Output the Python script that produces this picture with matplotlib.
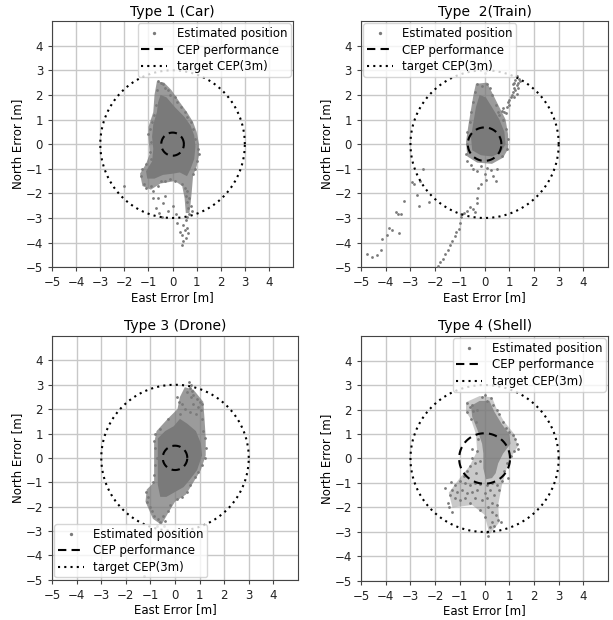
'''CEP scatter plots for four platform types.'''
import numpy as np
import matplotlib.pyplot as plt

# ---- data (metres) ----
titles = ['Type 1 (Car)', 'Type  2(Train)', 'Type 3 (Drone)', 'Type 4 (Shell)']
cep_radius = [0.47, 0.68, 0.50, 1.03]
target_cep = 3.0
legend_locs = ['upper right', 'upper left', 'lower left', 'upper right']

# solid grey centre of each cloud (outline)
car_core_x = [-0.5, -0.25, 0.1, 0.5, 0.75, 0.9, 0.95, 0.9, 0.75, 0.6, 0.3, 0.0,
              -0.4, -0.75, -1.05, -1.1, -0.85, -0.8, -0.85, -0.8, -0.65, -0.6]
car_core_y = [2.0, 1.9, 1.5, 1.1, 0.75, 0.35, -0.1, -0.6, -1.0, -1.3, -1.15, -1.2,
              -1.25, -1.4, -1.4, -1.1, -0.7, -0.2, 0.3, 0.8, 1.3, 1.7]
# lighter, speckled area around it (outline)
car_halo_x = [-0.65, -0.35, -0.05, 0.3, 0.6, 0.85, 1.0, 1.1, 1.1, 1.0, 0.85, 0.8, 0.75, 0.7, 0.55,
              0.5, 0.4, 0.1, -0.5, -0.9, -1.25, -1.35, -1.1, -0.95, -1.0, -1.0, -0.8, -0.75]
car_halo_y = [2.55, 2.5, 2.2, 1.7, 1.3, 0.9, 0.5, 0.0, -0.45, -0.9, -1.3, -1.9, -2.4, -2.8, -2.8,
              -2.2, -1.7, -1.5, -1.6, -1.85, -1.7, -1.2, -0.8, -0.4, 0.3, 0.7, 1.3, 2.0]
# scattered estimates
car_x = [-0.6, -0.5, -0.4, -0.3, -0.65, -0.2, -0.1, 0.1, 0.2, 0.35, 0.5, 0.6, 0.75, 0.85, 0.95, 1.05,
         1.1, 1.0, 0.95, 0.85,
         -0.7, -0.75, -0.85, -0.95, -1.0, -0.9, -0.95, -0.9, -1.1, -1.25, -1.3, -1.2, -1.1, -0.9, -0.8,
         -0.6, -0.5, -0.3, -0.1, 0.1,
         0.4, 0.5, 0.6, 0.55, 0.7, 0.6, 0.75, 0.65, 0.8, 0.7, 0.6, 0.55, 0.45, 0.6, 0.5, 0.65, 0.4, 0.55,
         0.45, 0.4, 0.3, 0.2,
         -0.6, -0.4, -0.7, -0.55, -0.45, -0.2, 0.0, 0.15, -0.3, -0.8, -2.0]
car_y = [2.55, 2.5, 2.45, 2.3, 2.2, 2.2, 2.0, 1.9, 1.7, 1.5, 1.3, 1.1, 0.9, 0.6, 0.2, -0.2,
         -0.4, -0.7, -1.0, -1.2,
         1.6, 1.2, 0.9, 0.6, 0.4, 0.1, -0.3, -0.6, -0.8, -1.0, -1.3, -1.6, -1.8, -1.7, -1.9,
         -1.7, -1.5, -1.5, -1.4, -1.5,
         -1.6, -1.8, -1.9, -2.1, -2.2, -2.35, -2.5, -2.6, -2.7, -2.85, -2.95, -3.1, -3.3, -3.4, -3.5, -3.6,
         -3.7, -3.8, -3.95, -4.1, -3.55, -3.2,
         -2.2, -2.4, -2.6, -2.8, -2.95, -2.7, -2.5, -2.85, -2.1, -2.2, -1.7]

train_core_x = [-0.2, 0.05, 0.3, 0.6, 0.8, 0.85, 0.65, 0.3, -0.15, -0.5, -0.55, -0.45, -0.35]
train_core_y = [2.0, 1.9, 1.5, 1.0, 0.5, 0.0, -0.35, -0.5, -0.45, -0.25, 0.3, 0.9, 1.5]
train_halo_x = [-0.35, 0.1, 0.35, 0.6, 0.85, 0.95, 0.95, 0.75, 0.3, -0.3, -0.7, -0.75, -0.65, -0.55,
                -0.45]
train_halo_y = [2.45, 2.5, 2.0, 1.5, 1.0, 0.4, -0.2, -0.55, -0.8, -0.75, -0.5, 0.1, 0.8, 1.4, 2.0]
train_x = [-0.3, -0.1, 0.1, 0.2, -0.4, 0.3, -0.45, 0.45, 0.55, -0.55, 0.75, -0.6, 0.85, -0.7, 0.95,
           -0.7, 0.9, -0.75, 0.7,
           0.6, 0.7, 0.75, 0.8, 0.9, 0.95, 1.0, 1.05, 1.1, 1.15, 1.2, 1.25, 1.3, 1.35, 1.25, 1.4, 1.3, 1.15,
           0.85, 1.0, 1.2, 1.35, 1.3, 1.45, 1.2,
           -0.7, -0.55, -0.45, -0.3, -0.15, 0.0, 0.1, 0.25, 0.35, 0.5, 0.45, -0.15, -0.25, 0.05,
           -0.3, -0.3, -0.45, -0.6, -0.7, -0.85, -0.95, -1.0, -1.05, -1.15, -1.2, -1.3, -1.4, -1.5, -1.6,
           -1.7, -1.8, -1.9,
           -4.75, -4.55, -4.35, -4.2, -4.15, -3.95, -3.85, -3.75, -3.6, -3.5, -3.4, -3.45, -3.25, -2.95,
           -2.85, -2.75, -2.6, -2.5, -2.65, -2.25, -0.95, -0.4, 0.0]
train_y = [2.45, 2.35, 2.45, 2.3, 2.1, 2.0, 1.7, 1.6, 1.3, 1.3, 1.0, 0.9, 0.6, 0.5, 0.2,
           0.0, -0.2, -0.4, -0.5,
           1.2, 1.35, 1.45, 1.3, 1.5, 1.7, 1.6, 1.9, 2.0, 2.1, 2.3, 2.2, 2.4, 2.5, 2.6, 2.65, 2.75, 2.45,
           1.25, 1.8, 2.5, 2.3, 2.05, 2.55, 1.9,
           -0.7, -0.85, -1.0, -1.1, -0.9, -1.2, -0.95, -1.05, -1.3, -1.0, -1.5, -1.6, -1.8, -1.45,
           -2.2, -2.4, -2.65, -2.55, -2.7, -2.8, -2.95, -3.2, -3.45, -3.55, -3.75, -3.95, -4.1, -4.3, -4.45,
           -4.65, -4.8, -4.95,
           -4.45, -4.6, -4.5, -4.3, -3.85, -3.7, -3.4, -3.5, -2.75, -2.85, -2.85, -3.6, -2.3, -1.55,
           -1.6, -2.05, -1.5, -1.0, -2.5, -2.35, -2.85, -2.75, 2.9]

drone_core_x = [0.2, 0.5, 0.85, 1.05, 1.1, 0.9, 0.6, 0.35, 0.0, -0.35, -0.6, -0.7, -0.7, -0.7,
                -0.7, -0.4, -0.05]
drone_core_y = [1.6, 1.4, 1.1, 0.6, 0.1, -0.5, -0.9, -1.2, -1.4, -1.6, -1.6, -1.1, -0.4, 0.3,
                0.8, 1.1, 1.3]
drone_halo_x = [0.4, 0.75, 1.15, 1.2, 1.25, 1.25, 1.05, 0.75, 0.45, 0.0, -0.3, -0.55, -0.9, -1.2,
                -1.15, -0.85, -0.85, -0.85, -0.75, -0.3, 0.1, 0.2]
drone_halo_y = [2.9, 2.8, 2.3, 1.6, 0.8, 0.1, -0.5, -1.0, -1.5, -1.8, -2.3, -2.75, -2.5, -1.8,
                -1.3, -1.0, -0.2, 0.6, 1.1, 1.6, 2.0, 2.5]
drone_x = [0.55, 0.65, 0.6, 0.7, 0.5, 0.75, 0.65, 0.1, 0.15, 0.9, 1.0, 1.1, 0.95, 1.05, 0.85, 0.3,
           0.4, 0.2, 0.6, 0.75, 1.1,
           -0.3, -0.6, -0.8, -0.85, -0.8, -0.75, -0.8, -0.85, -0.9, 1.15, 1.2, 1.25, 1.2, 1.1, 0.95,
           0.8, 0.6, 0.5, 0.3, 0.1,
           -1.2, -1.1, -1.15, -1.0, -0.95, -0.85, -0.7, -0.6, -0.5, -0.4, -0.45, -0.3, -0.2, -0.75, -1.25]
drone_y = [3.1, 3.0, 2.85, 2.75, 2.7, 2.6, 2.5, 2.5, 2.3, 2.4, 2.3, 2.2, 2.1, 1.95, 1.8, 2.2,
           2.0, 1.8, 1.9, 2.2, 1.6,
           1.6, 1.2, 1.0, 0.7, 0.4, 0.0, -0.3, -0.7, -1.0, 1.1, 0.8, 0.4, 0.0, -0.3, -0.6,
           -0.8, -1.1, -1.4, -1.6, -1.7,
           -1.4, -1.6, -1.8, -2.0, -2.2, -2.4, -2.5, -2.65, -2.4, -2.6, -2.8, -2.2, -1.95, -2.8, -4.85]

shell_core_x = [-0.55, -0.2, 0.2, 0.4, 0.7, 1.0, 1.05, 0.75, 0.55, 0.45, 0.3, 0.05, -0.05, -0.05,
                -0.1, -0.3, -0.5]
shell_core_y = [2.15, 2.35, 2.35, 1.9, 1.4, 1.0, 0.6, 0.2, -0.2, -0.6, -0.8, -0.85, -0.4, 0.2,
                0.6, 1.2, 1.7]
shell_halo_x = [-0.75, -0.2, 0.3, 0.5, 0.8, 1.2, 1.35, 1.1, 0.9, 0.7, 0.55, 0.6, 0.2, 0.0, -0.5,
                -1.3, -1.45, -1.0, -0.6, -0.3, -0.35, -0.55, -0.75]
shell_halo_y = [2.3, 2.55, 2.5, 2.0, 1.5, 1.0, 0.5, 0.1, -0.4, -1.1, -1.9, -2.6, -3.1, -2.3, -1.9,
                -2.0, -1.4, -0.8, -0.3, 0.3, 1.0, 1.6, 1.9]
shell_x = [-0.7, -0.6, -0.5, -0.45, -0.7, -0.3, -0.1, 0.0, 0.1, 0.25, 0.35, 0.5, 0.6, -0.55, -0.35,
           0.75, 0.85, 1.0, 1.15, 1.25, 1.3, 1.35, 1.2, 1.05,
           -0.3, -0.5, -0.6, -0.4, -0.2, -0.7, -0.35, -0.5, -0.25, 0.9, 0.8, 0.95, 0.7,
           -0.85, -1.0, -0.8, -0.6, -0.4, -0.2, 0.1, 0.3, 0.5, 0.6, -1.2, -1.3, -1.1, -0.9, -0.7, -0.5,
           -0.3, 0.0, 0.2, 0.4, -1.4, -1.2, -1.0, -0.8, -0.6, -0.4, -0.1, 0.1, 0.3, 0.5, -1.45, -1.5,
           -1.3, -0.2, 0.15, 0.3, 0.45, 0.55, 0.65, 0.3, 0.2, 0.4, 0.1, 0.15, 0.0, -1.6, -1.35]
shell_y = [2.25, 2.1, 2.2, 1.95, 1.9, 2.0, 2.5, 2.6, 2.35, 2.45, 2.2, 2.0, 1.8, 1.6, 1.5,
           1.5, 1.25, 1.1, 0.95, 0.8, 0.6, 0.4, 0.3, 0.1,
           0.3, 0.0, -0.3, -0.2, -0.1, -0.5, -0.6, 0.4, 0.8, -0.2, -0.5, -0.8, -0.9,
           -0.7, -0.9, -1.0, -1.1, -1.0, -1.05, -1.1, -1.0, -1.1, -1.3, -1.1, -1.3, -1.35, -1.3, -1.4, -1.35,
           -1.3, -1.4, -1.3, -1.5, -1.5, -1.6, -1.7, -1.6, -1.8, -1.6, -1.7, -1.6, -1.8, -1.9, -2.0, -1.8,
           -2.2, -2.1, -2.0, -2.2, -2.3, -2.5, -2.6, -2.6, -2.8, -2.75, -3.0, -3.15, -2.4, -1.2, -0.95]

clouds = [
    (car_x, car_y, car_core_x, car_core_y, car_halo_x, car_halo_y),
    (train_x, train_y, train_core_x, train_core_y, train_halo_x, train_halo_y),
    (drone_x, drone_y, drone_core_x, drone_core_y, drone_halo_x, drone_halo_y),
    (shell_x, shell_y, shell_core_x, shell_core_y, shell_halo_x, shell_halo_y),
]
core_alpha = [1.0, 1.0, 1.0, 0.75]
halo_alpha = [0.75, 0.75, 0.75, 0.4]

# axes boxes in figure fractions (left, bottom, width, height)
boxes = [
    [0.085, 0.569, 0.393, 0.397],
    [0.589, 0.569, 0.403, 0.397],
    [0.085, 0.065, 0.401, 0.393],
    [0.589, 0.063, 0.403, 0.395],
]

GREY = '#7a7a7a'


def draw_panel(ax, i):
    """Scatter of estimates plus CEP and target circles."""
    px, py, cx, cy, hx, hy = clouds[i]
    ax.fill(hx, hy, color=GREY, lw=0, alpha=halo_alpha[i], zorder=2)
    ax.fill(cx, cy, color=GREY, lw=0, alpha=core_alpha[i], zorder=2)
    ax.plot(px, py, 'o', color=GREY, ms=2.0, mew=0, label='Estimated position', zorder=3)

    cep = cep_radius[i]
    theta = np.linspace(0, 2 * np.pi, 361)
    ax.plot(cep * np.cos(theta), cep * np.sin(theta), color='black', ls=(0, (4, 2.5)),
            lw=1.5, label='CEP performance', zorder=4)
    ax.plot(target_cep * np.cos(theta), target_cep * np.sin(theta), color='black',
            ls=(0, (1, 2)), lw=1.5, label='target CEP(3m)', zorder=4)

    ax.set_xlim(-5, 5)
    ax.set_ylim(-5, 5)
    ax.set_xticks(range(-5, 5))
    ax.set_yticks(range(-5, 5))
    ax.tick_params(labelsize=8.5, length=3, color='#444444', labelcolor='#222222')
    ax.grid(True, color='#c8c8c8', lw=1.0)
    ax.set_axisbelow(True)
    for sp in ax.spines.values():
        sp.set_color('#444444')
    ax.set_title(titles[i], fontsize=10, pad=4)
    ax.set_xlabel('East Error [m]', fontsize=8.5, labelpad=1)
    ax.set_ylabel('North Error [m]', fontsize=8.5, labelpad=1)
    ax.legend(loc=legend_locs[i], fontsize=8.5, numpoints=1, markerscale=1.2, borderpad=0.3,
              labelspacing=0.3, handlelength=2.2, borderaxespad=0.2)


fig = plt.figure(figsize=(6.13, 6.2), dpi=100)
for i in range(4):
    ax = fig.add_axes(boxes[i])
    draw_panel(ax, i)

fig.savefig('out.png', dpi=100)
